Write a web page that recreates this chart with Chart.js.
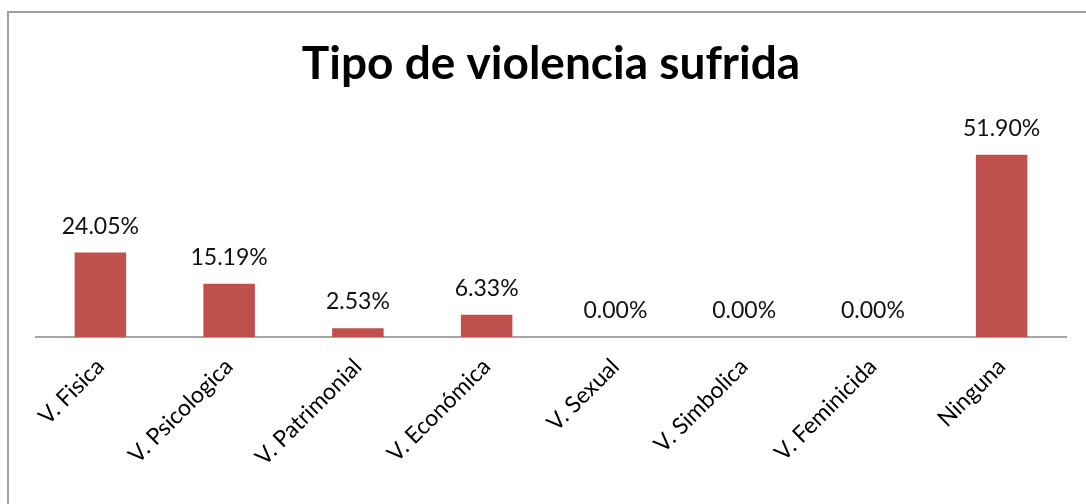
<!DOCTYPE html>
<html>
<head>
<meta charset="utf-8">
<script src="https://cdn.jsdelivr.net/npm/chart.js@4/dist/chart.umd.min.js"></script>
<style>
  html, body { margin: 0; padding: 0; background: #fff; overflow: hidden; }
  #wrap { position: absolute; left: 0; top: 0; width: 1086px; height: 504px; }
  #marco { position: absolute; left: 7px; top: 11px; width: 1100px; height: 520px;
           border: 2px solid #a0a0a0; pointer-events: none; box-sizing: border-box; }
</style>
</head>
<body>
<div id="wrap"><canvas id="myChart" width="1086" height="504"></canvas></div>
<div id="marco"></div>
<script>
var categorias = ['V. Fisica', 'V. Psicologica', 'V. Patrimonial', 'V. Económica',
                  'V. Sexual', 'V. Simbolica', 'V. Feminicida', 'Ninguna'];
var porcentajes = [24.05, 15.19, 2.53, 6.33, 0.00, 0.00, 0.00, 51.90];

// etiquetas de valor encima de cada barra
var etiquetasValor = {
    id: 'etiquetasValor',
    afterDatasetsDraw: function (chart) {
        var ctx = chart.ctx;
        var meta = chart.getDatasetMeta(0);
        ctx.save();
        ctx.font = '23px Lato, sans-serif';
        ctx.fillStyle = '#111';
        ctx.textAlign = 'center';
        ctx.textBaseline = 'alphabetic';
        meta.data.forEach(function (bar, i) {
            ctx.fillText(porcentajes[i].toFixed(2) + '%', bar.x, bar.y - 19);
        });
        ctx.restore();
    }
};

var ctx = document.getElementById('myChart');
var myChart = new Chart(ctx, {
    type: 'bar',
    data: {
        labels: categorias,
        datasets: [{
            data: porcentajes,
            backgroundColor: '#c0504d',
            borderColor: '#c0504d',
            borderWidth: 0,
            barPercentage: 0.4,
            categoryPercentage: 1.0
        }]
    },
    options: {
        responsive: false,
        animation: false,
        layout: { padding: { left: 36, right: 20, top: 30, bottom: 17 } },
        plugins: {
            legend: { display: false },
            tooltip: { enabled: false },
            title: {
                display: true,
                text: 'Tipo de violencia sufrida',
                color: '#000',
                font: { family: 'Lato, sans-serif', size: 46, weight: 'bold' },
                padding: { top: 7, bottom: 34 }
            }
        },
        scales: {
            x: {
                grid: { display: false, drawTicks: false },
                border: { display: true, color: '#a6a6a6', width: 2 },
                ticks: {
                    color: '#000',
                    font: { family: 'Lato, sans-serif', size: 23 },
                    minRotation: 45,
                    maxRotation: 45,
                    padding: 16
                }
            },
            y: {
                display: false,
                min: 0,
                max: 60
            }
        }
    },
    plugins: [etiquetasValor]
});
</script>
</body>
</html>
